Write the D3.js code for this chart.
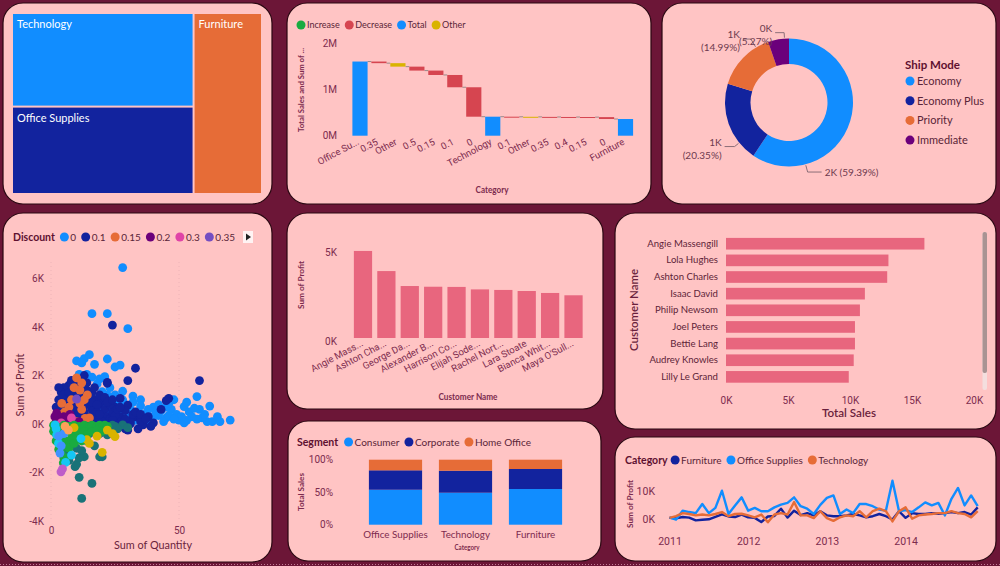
<!DOCTYPE html>
<html><head><meta charset="utf-8">
<script src="https://cdn.jsdelivr.net/npm/d3@7"></script>
<style>
html,body{margin:0;padding:0;background:#6C1637;}
svg{display:block;}
</style></head><body>
<svg id="c" width="1000" height="566"></svg>
<script>
// ---------------- DATA ----------------
const treeCategories = ["Technology","Office Supplies","Furniture"];
const treeValues = [16.6, 15.5, 12.1];

const wfLabels = ["Office Su...","0.35","Other","0.5","0.15","0.1","0","Technology","0.1","Other","0.35","0.4","0.15","0","Furniture"];
const wfTypes  = ["Total","Decrease","Other","Decrease","Decrease","Decrease","Decrease","Total","Decrease","Other","Decrease","Decrease","Decrease","Decrease","Total"];
const wfValues = [1.60,-0.035,-0.075,-0.085,-0.095,-0.265,-0.635,0.41,-0.002,-0.002,-0.002,-0.001,-0.002,-0.041,0.36];
const wfLegend = ["Increase","Decrease","Total","Other"];
const wfTicks = [0,1,2];

const shipModes = ["Economy","Economy Plus","Priority","Immediate"];
const shipPct = [59.39,20.35,14.99,5.27];
const shipK = ["2K","1K","1K","0K"];

const discountLevels = [0,0.1,0.15,0.2,0.3,0.35,0.4,0.45,0.5,0.55,0.6,0.65,0.7,0.8];
const discountLegend = ["0","0.1","0.15","0.2","0.3","0.35"];
// [Sum of Quantity, Sum of Profit, Discount]
const scatterPoints = [
 [28,6450,0],[16,4550,0],[22,4550,0],[30,3930,0],
 [10,2600,0],[13,2700,0],[15,2860,0],[12,2520,0],[17,2460,0],[22,2680,0],[25,2350,0],[27,2430,0],[16,1930,0],[19,1860,0],[21,1950,0],
 [20,1330,0],[23,1500,0],[11,2050,0],[14,2050,0],[18,1650,0],[25,1200,0],[28,1350,0],[32,1150,0],[35,1000,0],[24,900,0],
 [57,1130,0],[62,740,0],[70,160,0],[63,100,0],[61,100,0],[58,600,0],[48,1000,0],[52,720,0],[54,500,0],[50,160,0],[40,700,0],[37,440,0],[42,350,0],[45,250,0],[47,600,0],[55,300,0],[59,250,0],[53,150,0],[44,100,0],[39,150,0],[36,300,0],[34,500,0],[31,600,0],[29,800,0],[33,150,0],[38,100,0],[41,500,0],[49,400,0],[56,650,0],[60,400,0],[46,350,0],[43,550,0],[51,300,0],[27,500,0],[30,250,0],[26,900,0],[23,580,0],[25,400,0],[20,700,0],[18,1000,0],[15,1200,0],[12,1400,0],[9,1700,0],[8,1300,0],
 [57,200,0],[52,50,0],[48,200,0],[45,700,0],[42,800,0],[38,600,0],[35,750,0],[32,900,0],[28,1000,0],[22,1200,0],[65,300,0],[66,100,0],[53,900,0],[46,850,0],[40,300,0],[36,50,0],[30,450,0],[26,300,0],
 [24,4080,0.1],[33,2300,0.1],[58,1790,0.1],[30,1790,0.1],[22,1720,0.1],[13,2000,0.1],[46,1060,0.1],[45,960,0.1],[43,600,0.1],[36,-40,0.1],[27,1060,0.1],[30,780,0.1],[33,300,0.1],[30,-250,0.1],[22,1680,0.1],[7,1600,0.1],[32,300,0.1],[31,0,0.1],[29,-200,0.1],
 [3,300,0.1],[4,600,0.1],[5,900,0.1],[6,1200,0.1],[7,1000,0.1],[8,800,0.1],[9,1100,0.1],[10,1300,0.1],[11,900,0.1],[12,700,0.1],[13,1100,0.1],[14,1400,0.1],[15,900,0.1],[16,600,0.1],[17,1000,0.1],[18,500,0.1],[19,800,0.1],[20,400,0.1],[21,600,0.1],[22,300,0.1],[23,200,0.1],[24,500,0.1],[25,700,0.1],[26,100,0.1],[27,300,0.1],[28,-100,0.1],[31,100,0.1],[32,400,0.1],[34,-200,0.1],[35,100,0.1],[5,1500,0.1],[8,1800,0.1],[10,1600,0.1],[6,400,0.1],[9,300,0.1],[12,200,0.1],[15,300,0.1],[18,150,0.1],[20,1000,0.1],[3,1000,0.1],[4,1300,0.1],[11,1800,0.1],[14,1700,0.1],[16,1300,0.1],[19,1200,0.1],[21,1100,0.1],[25,350,0.1],[29,550,0.1],[38,300,0.1],[40,50,0.1],
 [10,700,0.1],[13,500,0.1],[17,400,0.1],[23,800,0.1],[26,600,0.1],[7,500,0.1],[11,400,0.1],[14,200,0.1],[16,100,0.1],[20,100,0.1],[24,150,0.1],[9,800,0.1],[17,1500,0.1],[12,1100,0.1],
 [2,700,0.1],[3,1500,0.1],[5,1200,0.1],[7,1300,0.1],[9,1400,0.1],[6,800,0.1],[4,300,0.1],[8,500,0.1],[10,500,0.1],[12,1000,0.1],[14,800,0.1],[16,900,0.1],[18,800,0.1],[19,400,0.1],[22,900,0.1],[24,1000,0.1],[27,700,0.1],[29,200,0.1],[33,500,0.1],[35,400,0.1],[37,200,0.1],[39,-100,0.1],
 [10,1900,0.15],[11.3,1400,0.15],[14.2,1200,0.15],[11.3,850,0.15],[4.2,850,0.15],[6.8,440,0.15],[12,600,0.15],[13,1000,0.15],[8,1000,0.15],[5,200,0.15],[7,700,0.15],[3,400,0.15],[15,250,0.15],[10,100,0.15],[9,1500,0.15],[12,1700,0.15],[5.4,500,0.15],[13.3,230,0.15],
 [10,1030,0.35],[2.2,450,0.2],[1.5,300,0.2],[7.4,400,0.2],[3,150,0.2],[5,300,0.2],[8,150,0.2],[4,100,0.2],[6,250,0.2],[9,50,0.2],[11,100,0.2],[2,100,0.2],[8,250,0.3],[4,50,0.3],
 [12,-3070,0.5],[16,-2450,0.5],[11,-2200,0.5],[9.4,-1760,0.5],[10,-1660,0.5],[13,-1350,0.5],[19,-1350,0.5],[20,-1350,0.5],[17,-900,0.5],[28,-40,0.5],[25,-100,0.5],[23,-300,0.5],[20,-200,0.5],[18,-350,0.5],[15,-400,0.5],[26,-200,0.5],[24,-50,0.5],[22,-450,0.5],[14,-700,0.5],[10,-1000,0.5],[8,-900,0.5],[6,-1100,0.5],[3.5,-1000,0.5],[6,-800,0.5],[30,-150,0.5],[21,-150,0.5],[19,-400,0.5],[17,-100,0.5],[11,-1400,0.5],[7,-1500,0.5],[12,-1100,0.5],
 [1,-50,0.55],[2,-100,0.55],[3,-200,0.55],[4,-150,0.55],[5,-50,0.55],[6,-300,0.55],[7,-100,0.55],[8,-250,0.55],[9,-50,0.55],[10,-200,0.55],[11,-100,0.55],[12,-350,0.55],[13,-50,0.55],[14,-200,0.55],[15,-100,0.55],[16,-50,0.55],[17,-250,0.55],[18,-100,0.55],[19,-50,0.55],[20,-150,0.55],[21,-50,0.55],[22,-100,0.55],[2,-400,0.55],[4,-500,0.55],[6,-700,0.55],[8,-600,0.55],[3,-650,0.55],[5,-900,0.55],[7,-1000,0.55],[4,-1200,0.55],[6,-1400,0.55],[3,-1050,0.55],[9,-500,0.55],[11,-400,0.55],[13,-300,0.55],[5,-1400,0.55],[4.8,-1600,0.55],[1,-300,0.55],[2,-700,0.55],[10,-600,0.55],[12,-700,0.55],[14,-450,0.55],[7,-300,0.55],[9,-800,0.55],[1.5,-150,0.55],[3,-400,0.55],[5,-250,0.55],[8,-100,0.55],[16,-300,0.55],[18,-250,0.55],[20,-300,0.55],
 [20,-1170,0.4],[25,-520,0.4],[15,-800,0.4],[14,-650,0.4],[22,-250,0.4],[9,-150,0.4],[18,-500,0.4],[24,-400,0.4],
 [1.6,-40,0.6],[2.2,-450,0.6],[2.9,-800,0.6],[8,-1280,0.6],[11.7,-600,0.6],[5.7,-1580,0.6],[2,-200,0.6],
 [3,-500,0.65],[4,-900,0.65],[5,-400,0.65],[3.5,-1200,0.65],
 [3.9,-1970,0.8],[4.5,-1850,0.8],[5.5,-100,0.7],[6.8,-250,0.7]
];

const custTop10 = ["Angie Mass...","Ashton Cha...","George Da...","Alexander B...","Harrison Co...","Elijah Sode...","Rachel Nort...","Lara Stoate","Bianca Whit...","Maya O'Sull..."];
const custProfit = [4890,3760,2920,2880,2870,2730,2700,2640,2530,2400];

const salesNames = ["Angie Massengill","Lola Hughes","Ashton Charles","Isaac David","Philip Newsom","Joel Peters","Bettie Lang","Audrey Knowles","Lilly Le Grand"];
const salesValues = [16000,13100,13000,11200,10800,10400,10400,10300,9900];
const salesTicks = [0,5000,10000,15000,20000];

const segCategories = ["Office Supplies","Technology","Furniture"];
const segNames = ["Consumer","Corporate","Home Office"];
const segConsumer = [0.538,0.492,0.549];
const segCorporate = [0.299,0.339,0.308];
const segHomeOffice = [0.163,0.169,0.143];

const lineYears = ["2011","2012","2013","2014"];
const lineSeries = ["Furniture","Office Supplies","Technology"];
// monthly Sum of Profit (K), Jan 2011 .. Dec 2014
const furnitureProfit = [0.3,0.1,0.6,0.4,-0.6,-0.4,-0.2,0.7,1.6,0.8,0.6,1.5,0.5,0.3,-1.2,0.8,1.0,3.6,0.4,2.9,1.3,2.0,1.2,2.7,1.2,0.9,0.9,1.2,1.7,1.2,0.5,0.9,1.7,0.9,-0.3,2.7,0.3,2.0,1.7,1.7,2.0,1.8,2.0,2.4,2.0,2.4,1.5,4.1];
const officeProfit = [0.5,-0.3,2.9,2.4,2.0,5.3,2.0,3.9,10.1,1.7,4.8,7.7,2.9,3.9,2.7,2.7,4.1,5.1,5.7,7.7,4.5,3.6,1.7,5.0,7.5,8.4,1.7,3.3,2.0,5.3,5.3,4.5,3.3,2.9,13.7,2.7,3.1,2.4,4.1,5.9,4.8,5.7,1.2,7.2,11.1,4.8,8.4,4.5];
const techProfit = [0.3,0.9,2.0,1.7,1.2,1.5,1.2,1.7,2.4,0.9,1.7,1.8,1.2,0.5,1.5,-1.3,1.5,2.0,1.5,6.0,1.2,1.2,0.2,2.7,0.2,-0.8,0.5,1.2,0.9,2.7,0.5,2.7,3.6,2.7,-1.0,2.7,4.1,0.0,1.2,1.5,1.7,2.0,2.0,2.7,2.0,1.7,0.5,2.7];

// ---------------- STYLE ----------------
const BG="#6C1637", PANEL="#FFC4C4", TICK="#7D2B4E", TITLE="#5E1030", LEG="#5A2438";
const FONT='"Segoe UI", Lato, "Noto Sans", sans-serif';
const TFONT='Roboto, "Noto Sans", sans-serif';
const C = {blue:"#118DFF", navy:"#12239E", orange:"#E66C37", purple:"#6B007B", pink:"#E044A7", violet:"#744EC2",
  yellow:"#D9B300", red:"#D64550", teal:"#197278", green:"#1AAB40", cyan:"#15C6F4", lblue:"#4092FF", lorange:"#FFA058", lviolet:"#BE5DC9"};
const discountColors = [C.blue,C.navy,C.orange,C.purple,C.pink,C.violet,C.yellow,C.red,C.teal,C.green,C.cyan,C.lblue,C.lorange,C.lviolet];

const svg = d3.select("#c").style("font-family",FONT);
svg.append("rect").attr("width",1000).attr("height",566).attr("fill",BG);
svg.append("line").attr("x1",0).attr("x2",1000).attr("y1",564.5).attr("y2",564.5)
  .attr("stroke","#c27a96").attr("stroke-dasharray","1,2").attr("stroke-width",1);

function panel(x,y,w,h){
  svg.append("rect").attr("x",x).attr("y",y).attr("width",w).attr("height",h).attr("rx",20)
    .attr("fill",PANEL).attr("stroke","#2a0812").attr("stroke-width",1.2);
}
panel(3,3,269,201); panel(287,3,364,201); panel(662,3,334,201);
panel(3,213,269,349); panel(287,213,316,196); panel(615,213,381,216);
panel(288,421,313,140); panel(615,437,381,124);

function styleAxis(g,fs,fill){
  g.select(".domain").remove(); g.selectAll(".tick line").remove();
  g.selectAll("text").attr("fill",fill||TICK).attr("font-size",fs).attr("font-family",TFONT);
}
function legend(x,y,title,labels,colors,fs,titleGap){
  const g = svg.append("g").attr("transform",`translate(${x},${y})`);
  let cx = 0;
  if(title){
    const t = g.append("text").attr("dy","0.35em").attr("font-size",fs+0.5).attr("font-weight",700).attr("fill",TITLE).text(title);
    cx = t.node().getComputedTextLength() + titleGap;
  }
  labels.forEach((l,i)=>{
    g.append("circle").attr("cx",cx+4.5).attr("cy",0).attr("r",4.5).attr("fill",colors[i]);
    const t = g.append("text").attr("x",cx+10.5).attr("dy","0.35em").attr("font-size",fs).attr("fill",LEG).text(l);
    cx += 10.5 + t.node().getComputedTextLength() + 5;
  });
  return g;
}
function rotTitle(x,y,txt,fs,len,weight,fill){
  svg.append("text").attr("transform",`translate(${x},${y}) rotate(-90)`).attr("text-anchor","middle")
    .attr("dy","0.35em").attr("font-size",fs).attr("font-weight",weight||700).attr("fill",fill||TICK)
    .attr("textLength",len).attr("lengthAdjust","spacingAndGlyphs").text(txt);
}
function hTitle(x,y,txt,fs,len,weight,fill){
  svg.append("text").attr("x",x).attr("y",y).attr("text-anchor","middle")
    .attr("dy","0.35em").attr("font-size",fs).attr("font-weight",weight||700).attr("fill",fill||TICK)
    .attr("textLength",len).attr("lengthAdjust","spacingAndGlyphs").text(txt);
}

// ---------------- 1. TREEMAP ----------------
{
  const root = d3.hierarchy({children: treeCategories.map((c,i)=>({name:c,value:treeValues[i]}))})
    .sum(d=>d.value||0).sort((a,b)=>b.value-a.value);
  d3.treemap().size([248,179]).paddingInner(2).tile(d3.treemapSquarify)(root);
  const colors = {"Technology":C.blue,"Office Supplies":C.navy,"Furniture":C.orange};
  const g = svg.append("g").attr("transform","translate(13,14)");
  const cell = g.selectAll("g").data(root.leaves()).join("g").attr("transform",d=>`translate(${d.x0},${d.y0})`);
  cell.append("rect").attr("width",d=>d.x1-d.x0).attr("height",d=>d.y1-d.y0).attr("fill",d=>colors[d.data.name]);
  cell.append("text").attr("x",4).attr("y",14).attr("fill","#fff").attr("font-size",11).text(d=>d.data.name);
}

// ---------------- 2. WATERFALL ----------------
{
  legend(296.5,25,null,wfLegend,[C.green,C.red,C.blue,C.yellow],9,0);
  const x = d3.scaleBand().domain(d3.range(wfLabels.length)).range([350.5,635]).paddingInner(0.2).paddingOuter(0.1);
  const y = d3.scaleLinear().domain([0,2]).range([135.7,43]);
  let level = 0;
  const bars = wfValues.map((v,i)=>{
    let s,e;
    if(wfTypes[i]==="Total"){ s=0; e=v; } else { s=level; e=level+v; }
    level = e; return {i,s,e,type:wfTypes[i]};
  });
  const tc = {Increase:C.green,Decrease:C.red,Total:C.blue,Other:C.yellow};
  const g = svg.append("g");
  bars.forEach((b,k)=>{ if(k<bars.length-1){
    g.append("line").attr("x1",x(b.i)+x.bandwidth()).attr("x2",x(b.i+1)).attr("y1",y(b.e)).attr("y2",y(b.e))
      .attr("stroke","#9a8a8a").attr("stroke-width",1);
  }});
  g.selectAll("rect").data(bars).join("rect")
    .attr("x",d=>x(d.i)).attr("width",x.bandwidth())
    .attr("y",d=>Math.min(y(d.s),y(d.e))).attr("height",d=>Math.max(1,Math.abs(y(d.s)-y(d.e))))
    .attr("fill",d=>tc[d.type]);
  const ya = svg.append("g").attr("transform","translate(337,0)")
    .call(d3.axisLeft(y).tickValues(wfTicks).tickFormat(d=>d+"M").tickSize(0).tickPadding(0));
  styleAxis(ya,10);
  const xa = svg.append("g").attr("transform","translate(0,140)")
    .call(d3.axisBottom(x).tickFormat(i=>wfLabels[i]).tickSize(0));
  styleAxis(xa,9.5);
  xa.selectAll("text").attr("y",0).attr("x",-2).attr("dy","0.35em").attr("text-anchor","end").attr("transform","rotate(-28)");
  hTitle(492,190,"Category",8.5,33);
  rotTitle(301,90,"Total Sales and Sum of ...",8,84);
}

// ---------------- 3. DONUT ----------------
{
  const cx=789, cy=102.5;
  const pie = d3.pie().sort(null).value(d=>d)(shipPct);
  const arc = d3.arc().innerRadius(38.5).outerRadius(64);
  const colors=[C.blue,C.navy,C.orange,C.purple];
  const g = svg.append("g").attr("transform",`translate(${cx},${cy})`);
  g.selectAll("path").data(pie).join("path").attr("d",arc).attr("fill",(d,i)=>colors[i]);
  // leader label layout: [angle(deg), elbow radius, horizontal length, two lines?]
  const lay = [[165,72,14,false],[231,70,10,true],[329,74,8,true],[356,70,9,true]];
  pie.forEach((p,i)=>{
    const [a,r2,hl,two] = lay[i];
    const rad = a*Math.PI/180;
    const p0=[65*Math.sin(rad),-65*Math.cos(rad)], p1=[r2*Math.sin(rad),-r2*Math.cos(rad)];
    const dir = Math.sin(rad)>=0?1:-1;
    const p2=[p1[0]+dir*hl,p1[1]];
    g.append("polyline").attr("points",[p0,p1,p2].map(p=>p.join(",")).join(" "))
      .attr("fill","none").attr("stroke","#8c6f78").attr("stroke-width",1);
    const t = g.append("text").attr("x",p2[0]+dir*3).attr("y",p2[1]).attr("text-anchor",dir>0?"start":"end")
      .attr("font-size",10).attr("fill","#6E3A4E");
    const pct = `(${shipPct[i].toFixed(2)}%)`;
    if(two){
      t.append("tspan").attr("x",p2[0]+dir*3).attr("dy","-0.1em").text(shipK[i]);
      t.append("tspan").attr("x",p2[0]+dir*3).attr("dy","1.3em").text(pct);
    } else t.attr("dy","0.35em").text(`${shipK[i]} ${pct}`);
  });
  const lg = svg.append("g").attr("transform","translate(905,0)");
  lg.append("text").attr("x",0).attr("y",65).attr("dy","0.35em").attr("font-size",11.5).attr("font-weight",700).attr("fill",TITLE).text("Ship Mode");
  shipModes.forEach((s,i)=>{
    const yy = 81 + i*19.7;
    lg.append("circle").attr("cx",5).attr("cy",yy).attr("r",4.5).attr("fill",colors[i]);
    lg.append("text").attr("x",12).attr("y",yy).attr("dy","0.35em").attr("font-size",11).attr("fill",LEG).text(s);
  });
}

// ---------------- 4. SCATTER ----------------
{
  legend(13,237,"Discount",discountLegend,discountColors.slice(0,6),10,5);
  svg.append("rect").attr("x",243).attr("y",231).attr("width",10).attr("height",12).attr("fill","#fff").attr("opacity",0.8);
  svg.append("path").attr("d","M246,233.5 L251,237 L246,240.5Z").attr("fill","#222");
  const x = d3.scaleLinear().domain([0,80]).range([51,255.8]);
  const y = d3.scaleLinear().domain([-4000,6000]).range([521,278.5]);
  [0,50].forEach(v=>svg.append("line").attr("x1",x(v)).attr("x2",x(v)).attr("y1",262).attr("y2",521)
    .attr("stroke","#eeb4b8").attr("stroke-dasharray","1,3"));
  const col = d3.scaleOrdinal().domain(discountLevels).range(discountColors);
  svg.append("g").selectAll("circle").data(scatterPoints).join("circle")
    .attr("cx",d=>x(d[0])).attr("cy",d=>y(d[1])).attr("r",4.4).attr("fill",d=>col(d[2]));
  const ya = svg.append("g").attr("transform","translate(44,0)")
    .call(d3.axisLeft(y).tickValues([-4000,-2000,0,2000,4000,6000]).tickFormat(d=>(d/1000)+"K").tickSize(0).tickPadding(0));
  styleAxis(ya,10);
  const xa = svg.append("g").attr("transform","translate(0,530)")
    .call(d3.axisBottom(x).tickValues([0,50]).tickSize(0).tickPadding(0));
  styleAxis(xa,10);
  xa.selectAll("text").attr("dy","0.35em");
  hTitle(153,545,"Sum of Quantity",11.5,78,400,"#6A1F3C");
  rotTitle(20,385,"Sum of Profit",11.5,63,400,"#6A1F3C");
}

// ---------------- 5. TOP 10 PROFIT BARS ----------------
{
  const x = d3.scaleBand().domain(custTop10).range([351.3,585.2]).paddingInner(0.22).paddingOuter(0.11);
  const y = d3.scaleLinear().domain([0,5000]).range([338,249]);
  svg.append("g").selectAll("rect").data(custTop10).join("rect")
    .attr("x",d=>x(d)).attr("width",x.bandwidth()).attr("y",(d,i)=>y(custProfit[i])).attr("height",(d,i)=>y(0)-y(custProfit[i]))
    .attr("fill","#E8667E");
  const ya = svg.append("g").attr("transform","translate(337,0)")
    .call(d3.axisLeft(y).tickValues([0,5000]).tickFormat(d=>(d/1000)+"K").tickSize(0).tickPadding(0));
  styleAxis(ya,10);
  ya.selectAll("text").attr("dy","0.6em");
  const xa = svg.append("g").attr("transform","translate(0,342)").call(d3.axisBottom(x).tickSize(0));
  styleAxis(xa,9.5);
  xa.selectAll("text").attr("y",0).attr("x",-1).attr("dy","0.35em").attr("text-anchor","end").attr("transform","rotate(-28)");
  hTitle(468,397,"Customer Name",8.5,59);
  rotTitle(301,285,"Sum of Profit",8,48);
}

// ---------------- 6. TOTAL SALES BARS ----------------
{
  const x = d3.scaleLinear().domain([0,20000]).range([726,974]);
  const y = d3.scaleBand().domain(salesNames).range([235.4,385.2]).paddingInner(0.3).paddingOuter(0.15);
  svg.append("g").selectAll("rect").data(salesNames).join("rect")
    .attr("x",x(0)).attr("y",d=>y(d)).attr("height",y.bandwidth()).attr("width",(d,i)=>x(salesValues[i])-x(0))
    .attr("fill","#E8667E");
  const ya = svg.append("g").attr("transform","translate(718,0)").call(d3.axisLeft(y).tickSize(0).tickPadding(0));
  styleAxis(ya,9.6,"#5E1F38");
  ya.selectAll("text").attr("font-family",FONT);
  const xa = svg.append("g").attr("transform","translate(0,400)")
    .call(d3.axisBottom(x).tickValues(salesTicks).tickFormat(d=>(d/1000)+"K").tickSize(0).tickPadding(0));
  styleAxis(xa,10);
  xa.selectAll("text").attr("dy","0.35em");
  hTitle(849,413,"Total Sales",12,54,600,"#6A1F3C");
  rotTitle(634,310,"Customer Name",12,82,600,"#6A1F3C");
  svg.append("rect").attr("x",982.5).attr("y",232).attr("width",4.5).attr("height",158).attr("rx",2).attr("fill","#f4dede");
  svg.append("rect").attr("x",982.5).attr("y",232).attr("width",4.5).attr("height",141).attr("rx",2).attr("fill","#a99393");
}

// ---------------- 7. 100% STACKED ----------------
{
  legend(297,442,"Segment",segNames,[C.blue,C.navy,C.orange],10,6);
  const x = d3.scaleBand().domain(segCategories).range([360.5,570.5]).paddingInner(0.24).paddingOuter(0.12);
  const y = d3.scaleLinear().domain([0,1]).range([524.7,459.7]);
  const rows = segCategories.map((c,i)=>({cat:c,Consumer:segConsumer[i],Corporate:segCorporate[i],"Home Office":segHomeOffice[i]}));
  const stack = d3.stack().keys(segNames)(rows);
  const colors=[C.blue,C.navy,C.orange];
  svg.append("g").selectAll("g").data(stack).join("g").attr("fill",(d,i)=>colors[i])
    .selectAll("rect").data(d=>d).join("rect")
    .attr("x",d=>x(d.data.cat)).attr("width",x.bandwidth()).attr("y",d=>y(d[1])).attr("height",d=>y(d[0])-y(d[1]));
  const ya = svg.append("g").attr("transform","translate(333,0)")
    .call(d3.axisLeft(y).tickValues([0,0.5,1]).tickFormat(d3.format(".0%")).tickSize(0).tickPadding(0));
  styleAxis(ya,10);
  const xa = svg.append("g").attr("transform","translate(0,535)").call(d3.axisBottom(x).tickSize(0).tickPadding(0));
  styleAxis(xa,9.8);
  xa.selectAll("text").attr("dy","0.35em").attr("font-family",FONT);
  hTitle(467,547.5,"Category",7.5,25);
  rotTitle(301,492,"Total Sales",7.5,38);
}

// ---------------- 8. LINE CHART ----------------
{
  legend(625,460,"Category",lineSeries,[C.navy,C.blue,C.orange],10,3);
  const x = d3.scaleLinear().domain([0,furnitureProfit.length-1]).range([669.5,977.7]);
  const y = d3.scaleLinear().domain([0,10]).range([518.7,491]);
  const line = d3.line().x((d,i)=>x(i)).y(d=>y(d));
  [[furnitureProfit,C.navy],[officeProfit,C.blue],[techProfit,C.orange]].forEach(([s,c])=>{
    svg.append("path").datum(s).attr("d",line).attr("fill","none").attr("stroke",c).attr("stroke-width",2.4)
      .attr("stroke-linejoin","round");
  });
  const ya = svg.append("g").attr("transform","translate(655,0)")
    .call(d3.axisLeft(y).tickValues([0,10]).tickFormat(d=>d+"K").tickSize(0).tickPadding(0));
  styleAxis(ya,10.5);
  const xa = svg.append("g").attr("transform","translate(0,541)")
    .call(d3.axisBottom(x).tickValues([0,12,24,36]).tickFormat(i=>lineYears[i/12]).tickSize(0).tickPadding(0));
  styleAxis(xa,10.5);
  xa.selectAll("text").attr("dy","0.35em");
  rotTitle(630,504,"Sum of Profit",8,48);
}
</script>
</body></html>
